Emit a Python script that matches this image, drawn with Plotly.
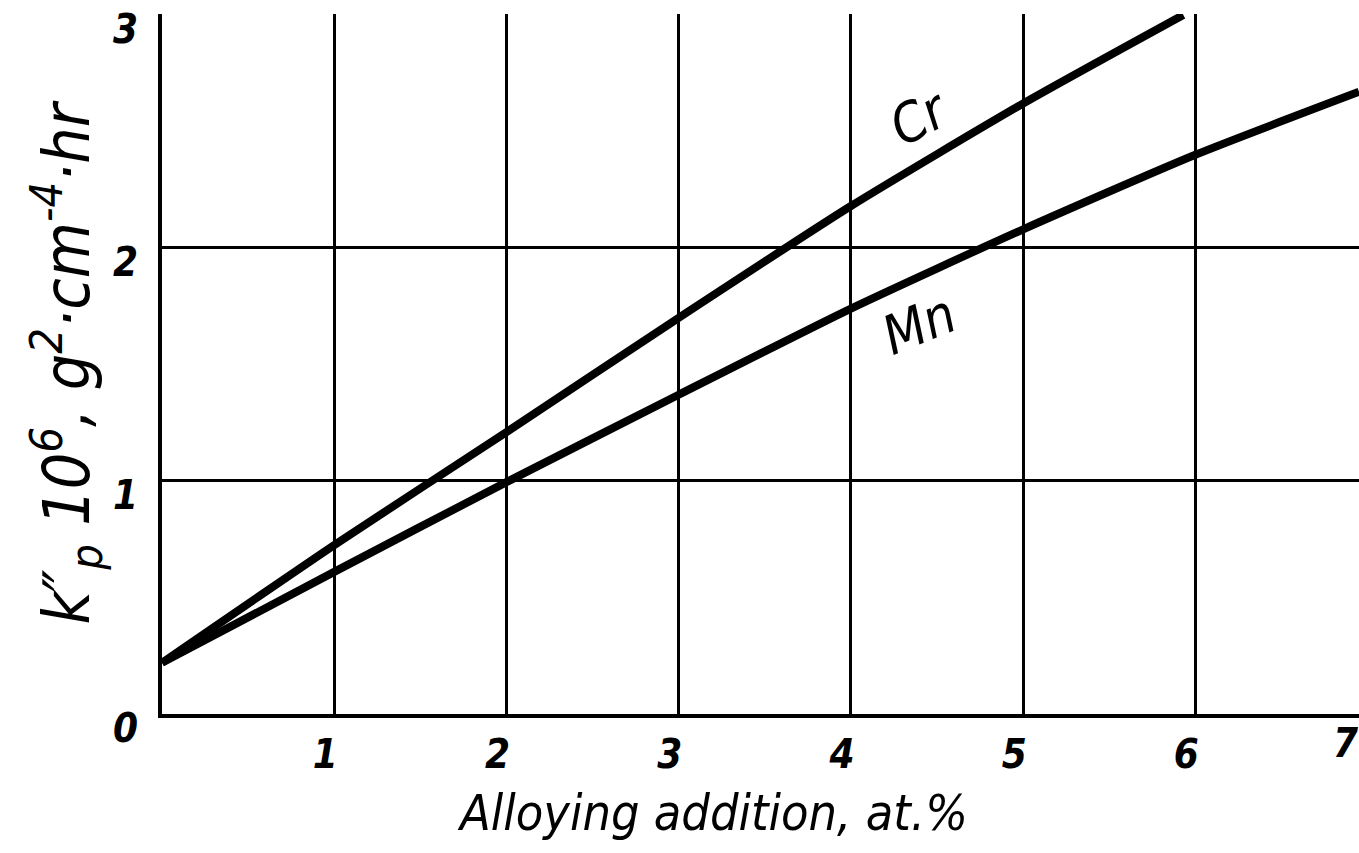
import plotly.graph_objects as go

# Data
cr_x = [0, 1, 2, 3, 4, 5, 5.93]
cr_y = [0.22, 0.725, 1.21, 1.70, 2.18, 2.62, 3.0]
mn_x = [0, 1, 2, 3, 4, 5, 6, 6.95]
mn_y = [0.22, 0.61, 0.995, 1.37, 1.74, 2.08, 2.40, 2.67]
x_ticks = [1, 2, 3, 4, 5, 6]
y_ticks = [0, 1, 2, 3]
x_max = 6.95
y_max = 3.004

FONT = "DejaVu Sans Condensed, Liberation Sans Narrow, Liberation Sans, DejaVu Sans, sans-serif"

fig = go.Figure()
fig.add_trace(go.Scatter(x=cr_x, y=cr_y, mode="lines", line=dict(color="black", width=8, shape="spline", smoothing=0.6),
                         showlegend=False, cliponaxis=True))
fig.add_trace(go.Scatter(x=mn_x, y=mn_y, mode="lines", line=dict(color="black", width=8, shape="spline", smoothing=0.6),
                         showlegend=False, cliponaxis=True))

fig.update_layout(
    width=1359, height=853,
    margin=dict(l=162, r=0, t=14, b=139),
    paper_bgcolor="white", plot_bgcolor="white",
    font=dict(family=FONT, color="black"),
)
fig.update_xaxes(
    range=[0, x_max], tickvals=x_ticks, ticktext=[f"<i><b>{v}</b></i>" for v in x_ticks],
    tickfont=dict(size=40), ticks="", ticklabelshift=-9, ticklabelstandoff=2,
    showgrid=True, gridcolor="black", gridwidth=2.5,
    showline=True, linecolor="black", linewidth=4, zeroline=False,
)
fig.update_yaxes(
    range=[0, y_max], tickvals=y_ticks, ticktext=[f"<i><b>{v}</b></i>" for v in y_ticks],
    tickfont=dict(size=40), ticks="", ticklabelshift=14, ticklabelstandoff=12,
    showgrid=True, gridcolor="black", gridwidth=2.5,
    showline=True, linecolor="black", linewidth=4, zeroline=False,
    title=dict(text="<i>k″<sub>p</sub> 10<sup>6</sup>, g<sup>2</sup>·cm<sup>-4</sup>·hr</i>",
               font=dict(size=64), standoff=0),
)

# x-axis title (placed to match the reference's off-centre position)
fig.add_annotation(x=0.46, y=0, xref="paper", yref="paper", text="<i>Alloying addition, at.%</i>",
                   showarrow=False, font=dict(size=50), yanchor="top", yshift=-68)
fig.add_annotation(x=7 / x_max, y=0, xref="paper", yref="paper", text="<i><b>7</b></i>",
                   showarrow=False, font=dict(size=40), yanchor="top", yshift=-4, xshift=-8)
fig.add_annotation(x=4.4, y=2.56, text="<i>Cr</i>", showarrow=False, font=dict(size=54), textangle=-28)
fig.add_annotation(x=4.4, y=1.67, text="<i>Mn</i>", showarrow=False, font=dict(size=54), textangle=-22)

fig.write_html("out.html")
